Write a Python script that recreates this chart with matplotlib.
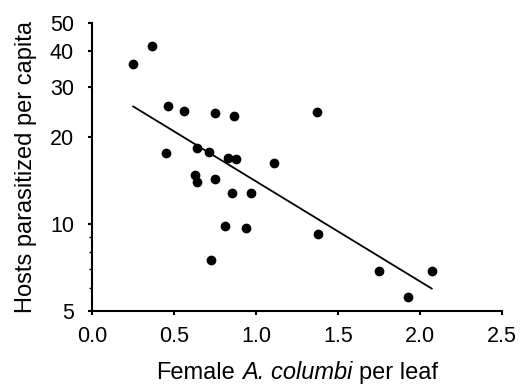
import matplotlib
matplotlib.use("Agg")
import matplotlib.pyplot as plt
from matplotlib.ticker import FixedLocator, NullFormatter, FixedFormatter
from matplotlib.offsetbox import TextArea, HPacker, AnchoredOffsetbox

females_per_leaf = [0.248, 0.366, 0.465, 0.561, 0.748, 0.866, 0.451, 0.640, 0.715, 0.831,
                    0.878, 1.112, 0.626, 0.638, 0.750, 0.856, 0.968, 0.811, 0.939, 0.726,
                    1.374, 1.378, 1.750, 2.071, 1.929]
hosts_per_capita = [35.9, 41.6, 25.6, 24.7, 24.3, 23.8, 17.6, 18.3, 17.8, 16.9,
                    16.8, 16.3, 14.8, 13.96, 14.35, 12.8, 12.8, 9.84, 9.68, 7.53,
                    24.4, 9.23, 6.86, 6.86, 5.60]
fit_x = [0.251, 2.071]
fit_y = [25.6, 5.98]

y_ticks = [5, 10, 20, 30, 40, 50]
y_minor = [6, 7, 8, 9]
x_ticks = [0.0, 0.5, 1.0, 1.5, 2.0, 2.5]

plt.rcParams['font.family'] = ['Liberation Sans', 'DejaVu Sans']

fig = plt.figure(figsize=(5.23, 3.90), dpi=100)
ax = fig.add_axes([0.176, 0.2026, 0.784, 0.7394])

ax.plot(females_per_leaf, hosts_per_capita, 'o', color='black', markersize=6)
ax.plot(fit_x, fit_y, '-', color='black', linewidth=1.3)

ax.set_yscale('log')
ax.set_ylim(5, 50)
ax.set_xlim(0, 2.5)
ax.yaxis.set_major_locator(FixedLocator(y_ticks))
ax.yaxis.set_major_formatter(FixedFormatter([str(v) for v in y_ticks]))
ax.yaxis.set_minor_locator(FixedLocator(y_minor))
ax.yaxis.set_minor_formatter(NullFormatter())
ax.set_xticks(x_ticks)
ax.set_xticklabels([f"{v:.1f}" for v in x_ticks])

for s in ['top', 'right']:
    ax.spines[s].set_visible(False)
for s in ['left', 'bottom']:
    ax.spines[s].set_linewidth(1.5)

ax.tick_params(axis='both', which='major', direction='out', length=3, width=1.5,
               labelsize=15.5)
ax.tick_params(axis='x', which='major', pad=8)
ax.tick_params(axis='y', which='major', pad=10)
ax.tick_params(axis='y', which='minor', direction='out', length=2, width=1)

ax.set_ylabel("Hosts parasitized per capita", fontsize=17, labelpad=9)

fs = 17
parts = [TextArea("Female", textprops=dict(fontsize=fs)),
         TextArea("A. columbi", textprops=dict(fontsize=fs, style='italic')),
         TextArea("per leaf", textprops=dict(fontsize=fs))]
pack = HPacker(children=parts, align="baseline", pad=0, sep=5)
box = AnchoredOffsetbox(loc='center', child=pack, frameon=False,
                        bbox_to_anchor=(0.5, -0.215), bbox_transform=ax.transAxes,
                        borderpad=0, pad=0)
ax.add_artist(box)

fig.savefig("out.png", dpi=100)
